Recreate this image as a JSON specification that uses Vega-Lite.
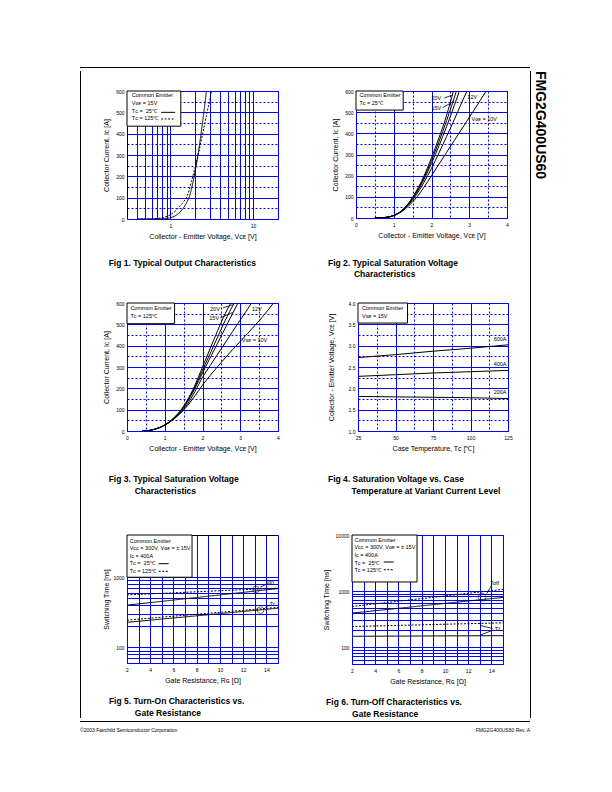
{
"$schema": "https://vega.github.io/schema/vega-lite/v6.json",
"background": "white",
"padding": {"left": 80, "top": 65, "right": 5, "bottom": 5},
"config": {
 "font": "Liberation Sans",
 "view": {"stroke": "black", "strokeWidth": 1},
 "axis": {"domain": false, "ticks": false, "tickCount": 100, "labelFontSize": 5, "labelColor": "black", "labelFont": "Liberation Sans", "titleFont": "Liberation Sans", "titleFontSize": 7, "titleFontWeight": "normal", "titleColor": "black", "gridColor": "#0000ff", "gridWidth": 1, "gridOpacity": 1, "labelPadding": 3, "titlePadding": 6, "labelFlush": false, "labelOverlap": false},
 "axisX": {"labelPadding": 4, "titlePadding": 4},
 "title": {"font": "Liberation Sans", "color": "black"},
 "text": {"font": "Liberation Sans", "color": "black", "fontSize": 5.5}
},
"datasets": {
 "f1": [
  {"v":0.4,"i":0,"tc":"25"},{"v":0.6,"i":0.3,"tc":"25"},{"v":0.8,"i":1.5,"tc":"25"},{"v":1.0,"i":6,"tc":"25"},{"v":1.2,"i":20,"tc":"25"},{"v":1.4,"i":45,"tc":"25"},{"v":1.6,"i":82,"tc":"25"},{"v":1.7,"i":105,"tc":"25"},{"v":1.8,"i":140,"tc":"25"},{"v":1.9,"i":180,"tc":"25"},{"v":2.0,"i":225,"tc":"25"},{"v":2.1,"i":272,"tc":"25"},{"v":2.2,"i":320,"tc":"25"},{"v":2.3,"i":372,"tc":"25"},{"v":2.4,"i":425,"tc":"25"},{"v":2.5,"i":478,"tc":"25"},{"v":2.6,"i":530,"tc":"25"},{"v":2.73,"i":600,"tc":"25"},
  {"v":0.4,"i":0,"tc":"125"},{"v":0.6,"i":1,"tc":"125"},{"v":0.8,"i":6,"tc":"125"},{"v":1.0,"i":20,"tc":"125"},{"v":1.2,"i":44,"tc":"125"},{"v":1.4,"i":74,"tc":"125"},{"v":1.6,"i":108,"tc":"125"},{"v":1.8,"i":175,"tc":"125"},{"v":2.0,"i":245,"tc":"125"},{"v":2.2,"i":312,"tc":"125"},{"v":2.4,"i":380,"tc":"125"},{"v":2.6,"i":445,"tc":"125"},{"v":2.8,"i":505,"tc":"125"},{"v":3.0,"i":558,"tc":"125"},{"v":3.14,"i":600,"tc":"125"}
 ],
 "f2": [
  {"v":0.5,"i":0,"g":"20"},{"v":0.8,"i":3,"g":"20"},{"v":1.0,"i":12,"g":"20"},{"v":1.2,"i":33,"g":"20"},{"v":1.4,"i":72,"g":"20"},{"v":1.6,"i":128,"g":"20"},{"v":1.8,"i":198,"g":"20"},{"v":2.0,"i":285,"g":"20"},{"v":2.2,"i":380,"g":"20"},{"v":2.4,"i":485,"g":"20"},{"v":2.58,"i":600,"g":"20"},
  {"v":0.5,"i":0,"g":"17"},{"v":0.8,"i":3,"g":"17"},{"v":1.0,"i":12,"g":"17"},{"v":1.2,"i":33,"g":"17"},{"v":1.4,"i":70,"g":"17"},{"v":1.6,"i":124,"g":"17"},{"v":1.8,"i":190,"g":"17"},{"v":2.0,"i":272,"g":"17"},{"v":2.2,"i":362,"g":"17"},{"v":2.4,"i":460,"g":"17"},{"v":2.66,"i":600,"g":"17"},
  {"v":0.5,"i":0,"g":"15"},{"v":0.8,"i":3,"g":"15"},{"v":1.0,"i":12,"g":"15"},{"v":1.2,"i":32,"g":"15"},{"v":1.4,"i":68,"g":"15"},{"v":1.6,"i":118,"g":"15"},{"v":1.8,"i":182,"g":"15"},{"v":2.0,"i":258,"g":"15"},{"v":2.2,"i":342,"g":"15"},{"v":2.4,"i":432,"g":"15"},{"v":2.6,"i":530,"g":"15"},{"v":2.74,"i":600,"g":"15"},
  {"v":0.5,"i":0,"g":"12"},{"v":0.8,"i":3,"g":"12"},{"v":1.0,"i":12,"g":"12"},{"v":1.2,"i":31,"g":"12"},{"v":1.4,"i":64,"g":"12"},{"v":1.6,"i":110,"g":"12"},{"v":1.8,"i":168,"g":"12"},{"v":2.0,"i":235,"g":"12"},{"v":2.2,"i":308,"g":"12"},{"v":2.4,"i":385,"g":"12"},{"v":2.6,"i":463,"g":"12"},{"v":2.8,"i":545,"g":"12"},{"v":2.94,"i":600,"g":"12"},
  {"v":0.5,"i":0,"g":"10"},{"v":0.8,"i":3,"g":"10"},{"v":1.0,"i":11,"g":"10"},{"v":1.2,"i":29,"g":"10"},{"v":1.4,"i":58,"g":"10"},{"v":1.6,"i":96,"g":"10"},{"v":1.8,"i":145,"g":"10"},{"v":2.0,"i":200,"g":"10"},{"v":2.2,"i":255,"g":"10"},{"v":2.4,"i":310,"g":"10"},{"v":2.6,"i":365,"g":"10"},{"v":2.8,"i":420,"g":"10"},{"v":3.0,"i":475,"g":"10"},{"v":3.2,"i":530,"g":"10"},{"v":3.45,"i":600,"g":"10"}
 ],
 "f3": [
  {"v":0.4,"i":0,"g":"20"},{"v":0.6,"i":3,"g":"20"},{"v":0.8,"i":12,"g":"20"},{"v":1.0,"i":28,"g":"20"},{"v":1.2,"i":55,"g":"20"},{"v":1.4,"i":92,"g":"20"},{"v":1.6,"i":145,"g":"20"},{"v":1.8,"i":215,"g":"20"},{"v":2.0,"i":300,"g":"20"},{"v":2.2,"i":385,"g":"20"},{"v":2.4,"i":470,"g":"20"},{"v":2.6,"i":550,"g":"20"},{"v":2.75,"i":600,"g":"20"},
  {"v":0.4,"i":0,"g":"17"},{"v":0.6,"i":3,"g":"17"},{"v":0.8,"i":12,"g":"17"},{"v":1.0,"i":28,"g":"17"},{"v":1.2,"i":54,"g":"17"},{"v":1.4,"i":90,"g":"17"},{"v":1.6,"i":140,"g":"17"},{"v":1.8,"i":207,"g":"17"},{"v":2.0,"i":285,"g":"17"},{"v":2.2,"i":362,"g":"17"},{"v":2.4,"i":440,"g":"17"},{"v":2.6,"i":518,"g":"17"},{"v":2.84,"i":600,"g":"17"},
  {"v":0.4,"i":0,"g":"15"},{"v":0.6,"i":3,"g":"15"},{"v":0.8,"i":12,"g":"15"},{"v":1.0,"i":27,"g":"15"},{"v":1.2,"i":52,"g":"15"},{"v":1.4,"i":86,"g":"15"},{"v":1.6,"i":136,"g":"15"},{"v":1.8,"i":200,"g":"15"},{"v":2.0,"i":272,"g":"15"},{"v":2.2,"i":342,"g":"15"},{"v":2.4,"i":412,"g":"15"},{"v":2.6,"i":482,"g":"15"},{"v":2.8,"i":552,"g":"15"},{"v":2.94,"i":600,"g":"15"},
  {"v":0.4,"i":0,"g":"12"},{"v":0.6,"i":3,"g":"12"},{"v":0.8,"i":12,"g":"12"},{"v":1.0,"i":27,"g":"12"},{"v":1.2,"i":52,"g":"12"},{"v":1.4,"i":84,"g":"12"},{"v":1.6,"i":126,"g":"12"},{"v":1.8,"i":185,"g":"12"},{"v":2.0,"i":252,"g":"12"},{"v":2.2,"i":306,"g":"12"},{"v":2.4,"i":360,"g":"12"},{"v":2.6,"i":413,"g":"12"},{"v":2.8,"i":467,"g":"12"},{"v":3.0,"i":520,"g":"12"},{"v":3.2,"i":573,"g":"12"},{"v":3.3,"i":600,"g":"12"},
  {"v":0.4,"i":0,"g":"10"},{"v":0.6,"i":3,"g":"10"},{"v":0.8,"i":12,"g":"10"},{"v":1.0,"i":27,"g":"10"},{"v":1.2,"i":50,"g":"10"},{"v":1.4,"i":80,"g":"10"},{"v":1.6,"i":118,"g":"10"},{"v":1.8,"i":165,"g":"10"},{"v":2.0,"i":215,"g":"10"},{"v":2.2,"i":260,"g":"10"},{"v":2.4,"i":302,"g":"10"},{"v":2.6,"i":342,"g":"10"},{"v":2.8,"i":382,"g":"10"},{"v":3.0,"i":420,"g":"10"},{"v":3.2,"i":458,"g":"10"},{"v":3.4,"i":497,"g":"10"},{"v":3.6,"i":537,"g":"10"},{"v":3.88,"i":600,"g":"10"}
 ],
 "f4": [
  {"t":25,"v":2.72,"c":"600A"},{"t":50,"v":2.79,"c":"600A"},{"t":75,"v":2.87,"c":"600A"},{"t":100,"v":2.94,"c":"600A"},{"t":125,"v":3.02,"c":"600A"},
  {"t":25,"v":2.28,"c":"400A"},{"t":50,"v":2.32,"c":"400A"},{"t":75,"v":2.36,"c":"400A"},{"t":100,"v":2.39,"c":"400A"},{"t":125,"v":2.42,"c":"400A"},
  {"t":25,"v":1.81,"c":"200A"},{"t":50,"v":1.80,"c":"200A"},{"t":75,"v":1.79,"c":"200A"},{"t":100,"v":1.78,"c":"200A"},{"t":125,"v":1.76,"c":"200A"}
 ],
 "f5": [
  {"rg":2,"ns":400,"sw":"Ton","tc":"25"},{"rg":8,"ns":515,"sw":"Ton","tc":"25"},{"rg":15,"ns":690,"sw":"Ton","tc":"25"},
  {"rg":2,"ns":560,"sw":"Ton","tc":"125"},{"rg":8,"ns":621,"sw":"Ton","tc":"125"},{"rg":15,"ns":700,"sw":"Ton","tc":"125"},
  {"rg":2,"ns":228,"sw":"Tr","tc":"25"},{"rg":8,"ns":282,"sw":"Tr","tc":"25"},{"rg":15,"ns":362,"sw":"Tr","tc":"25"},
  {"rg":2,"ns":245,"sw":"Tr","tc":"125"},{"rg":8,"ns":297,"sw":"Tr","tc":"125"},{"rg":15,"ns":372,"sw":"Tr","tc":"125"}
 ],
 "f6": [
  {"rg":2,"ns":404,"sw":"Toff","tc":"25"},{"rg":8,"ns":545,"sw":"Toff","tc":"25"},{"rg":15,"ns":771,"sw":"Toff","tc":"25"},
  {"rg":2,"ns":531,"sw":"Toff","tc":"125"},{"rg":8,"ns":734,"sw":"Toff","tc":"125"},{"rg":15,"ns":1071,"sw":"Toff","tc":"125"},
  {"rg":2,"ns":156,"sw":"Tf","tc":"25"},{"rg":8,"ns":158,"sw":"Tf","tc":"25"},{"rg":15,"ns":160,"sw":"Tf","tc":"25"},
  {"rg":2,"ns":233,"sw":"Tf","tc":"125"},{"rg":8,"ns":250,"sw":"Tf","tc":"125"},{"rg":15,"ns":271,"sw":"Tf","tc":"125"}
 ]
},
"spacing": 0,
"vconcat": [
 {"width": 450, "height": 1, "view": {"fill": "black", "stroke": null}, "data": {"values": [{}]}, "mark": {"type": "text", "text": ""}},
 {"spacing": 21, "hconcat": [
   {"width": 1, "height": 647, "view": {"fill": "black", "stroke": null}, "data": {"values": [{}]}, "mark": {"type": "text", "text": ""}},
   {"spacing": 17, "hconcat": [
   {"spacing": 0, "vconcat": [
     {"width": 380, "height": 17, "view": {"stroke": null}, "data": {"values": [{}]}, "mark": {"type": "text", "text": ""}},
     {"spacing": 48, "hconcat": [
       {"width": 151, "height": 128, "data": {"name": "f1"},
        "title": {"text": "Fig 1. Typical Output Characteristics", "orient": "bottom", "anchor": "start", "dx": 6, "offset": 20, "fontSize": 8.5, "fontWeight": "bold"},
        "layer": [
         {"mark": {"type": "line", "clip": true, "interpolate": "monotone", "color": "black", "strokeWidth": 1},
          "encoding": {
           "x": {"field": "v", "type": "quantitative", "scale": {"type": "log", "domain": [0.3, 20], "nice": false},
                 "axis": {"title": "Collector - Emitter Voltage, Vᴄᴇ [V]", "grid": true, "tickCount": 100, "values": [0.4,0.5,0.6,0.7,0.8,0.9,1,2,3,4,5,6,7,8,9,10,20], "labelExpr": "datum.value == 1 || datum.value == 10 ? format(datum.value, 'd') : ''"}},
           "y": {"field": "i", "type": "quantitative", "scale": {"domain": [0, 600], "nice": false},
                 "axis": {"title": "Collector Current, Iᴄ [A]", "grid": true, "tickCount": 100, "values": [0,50,100,150,200,250,300,350,400,450,500,550,600], "labelExpr": "datum.value % 100 == 0 ? format(datum.value, 'd') : ''", "gridDash": {"condition": {"test": "datum.value % 100 != 0", "value": [2, 2]}, "value": []}}},
           "strokeDash": {"field": "tc", "type": "nominal", "scale": {"domain": ["25", "125"], "range": [[1, 0], [2, 1.5]]}, "legend": null}
          }},
         {"data": {"values": [{}]}, "mark": {"type": "rect", "fill": "white", "stroke": "black", "strokeWidth": 1}, "encoding": {"x": {"datum": 0.3}, "x2": {"datum": 1.34}, "y": {"datum": 600}, "y2": {"datum": 435}}},
         {"data": {"values": [{}]}, "mark": {"type": "text", "align": "left", "baseline": "top", "lineBreak": "\n", "lineHeight": 7.8, "fontSize": 5.5, "text": "Common Emitter\nVɢᴇ = 15V\nTᴄ =\u00a0\u00a025℃\nTᴄ = 125℃"}, "encoding": {"x": {"datum": 0.343}, "y": {"datum": 591}}},
         {"data": {"values": [{}]}, "mark": {"type": "rule", "color": "black", "strokeWidth": 1}, "encoding": {"x": {"datum": 0.775}, "x2": {"datum": 1.147}, "y": {"datum": 500}}},
         {"data": {"values": [{}]}, "mark": {"type": "rule", "color": "black", "strokeWidth": 1, "strokeDash": [2, 1.5]}, "encoding": {"x": {"datum": 0.775}, "x2": {"datum": 1.147}, "y": {"datum": 469}}}
        ]},
       {"width": 151, "height": 127, "data": {"name": "f2"},
        "title": {"text": ["Fig 2. Typical Saturation Voltage", "\u200b\u00a0\u00a0\u00a0\u00a0\u00a0\u00a0\u00a0\u00a0\u00a0\u00a0\u00a0Characteristics"], "orient": "bottom", "anchor": "start", "frame": "group", "dx": -28, "offset": 21, "fontSize": 8.5, "fontWeight": "bold", "lineHeight": 10.5},
        "layer": [
         {"mark": {"type": "line", "clip": true, "interpolate": "monotone", "color": "black", "strokeWidth": 1},
          "encoding": {
           "x": {"field": "v", "type": "quantitative", "scale": {"domain": [0, 4], "nice": false},
                 "axis": {"title": "Collector - Emitter Voltage, Vᴄᴇ [V]", "grid": true, "tickCount": 100, "values": [0,0.5,1,1.5,2,2.5,3,3.5,4], "labelExpr": "datum.value % 1 == 0 ? format(datum.value, 'd') : ''", "gridDash": {"condition": {"test": "datum.value % 1 != 0", "value": [2, 2]}, "value": []}}},
           "y": {"field": "i", "type": "quantitative", "scale": {"domain": [0, 600], "nice": false},
                 "axis": {"title": "Collector Current, Iᴄ [A]", "grid": true, "tickCount": 100, "values": [0,50,100,150,200,250,300,350,400,450,500,550,600], "labelExpr": "datum.value % 100 == 0 ? format(datum.value, 'd') : ''", "gridDash": {"condition": {"test": "datum.value % 100 != 0", "value": [2, 2]}, "value": []}}},
           "detail": {"field": "g", "type": "nominal"}
          }},
         {"data": {"values": [{}]}, "mark": {"type": "rect", "fill": "white", "stroke": "black", "strokeWidth": 1}, "encoding": {"x": {"datum": 0}, "x2": {"datum": 1.25}, "y": {"datum": 600}, "y2": {"datum": 510}}},
         {"data": {"values": [{}]}, "mark": {"type": "text", "align": "left", "baseline": "top", "lineBreak": "\n", "lineHeight": 8.3, "fontSize": 5.5, "text": "Common Emitter\nTᴄ = 25℃"}, "encoding": {"x": {"datum": 0.09}, "y": {"datum": 590}}},
         {"data": {"values": [{}]}, "mark": {"type": "text", "align": "left", "baseline": "middle", "fontSize": 5.5, "text": "20V"}, "encoding": {"x": {"datum": 2.0}, "y": {"datum": 567}}},
         {"data": {"values": [{}]}, "mark": {"type": "text", "align": "left", "baseline": "middle", "fontSize": 5.5, "text": "15V"}, "encoding": {"x": {"datum": 2.0}, "y": {"datum": 520}}},
         {"data": {"values": [{}]}, "mark": {"type": "text", "align": "left", "baseline": "middle", "fontSize": 5.5, "text": "12V"}, "encoding": {"x": {"datum": 2.95}, "y": {"datum": 570}}},
         {"data": {"values": [{}]}, "mark": {"type": "text", "align": "left", "baseline": "middle", "fontSize": 5.5, "text": "Vɢᴇ = 10V"}, "encoding": {"x": {"datum": 3.06}, "y": {"datum": 468}}},
         {"data": {"values": [{}]}, "mark": {"type": "rule", "color": "black", "strokeWidth": 0.8}, "encoding": {"x": {"datum": 2.34}, "y": {"datum": 567}, "x2": {"datum": 2.57}, "y2": {"datum": 582}}},
         {"data": {"values": [{}]}, "mark": {"type": "rule", "color": "black", "strokeWidth": 0.8}, "encoding": {"x": {"datum": 2.3}, "y": {"datum": 522}, "x2": {"datum": 2.6}, "y2": {"datum": 552}}}
        ]}
     ]},
     {"width": 380, "height": 21, "view": {"stroke": null}, "data": {"values": [{}]}, "mark": {"type": "text", "text": ""}},
     {"spacing": 46, "hconcat": [
       {"width": 151, "height": 128, "data": {"name": "f3"},
        "title": {"text": ["Fig 3. Typical Saturation Voltage", "\u200b\u00a0\u00a0\u00a0\u00a0\u00a0\u00a0\u00a0\u00a0\u00a0\u00a0\u00a0Characteristics"], "orient": "bottom", "anchor": "start", "dx": 6, "offset": 24, "fontSize": 8.5, "fontWeight": "bold", "lineHeight": 12},
        "layer": [
         {"mark": {"type": "line", "clip": true, "interpolate": "monotone", "color": "black", "strokeWidth": 1},
          "encoding": {
           "x": {"field": "v", "type": "quantitative", "scale": {"domain": [0, 4], "nice": false},
                 "axis": {"title": "Collector - Emitter Voltage, Vᴄᴇ [V]", "grid": true, "tickCount": 100, "values": [0,0.5,1,1.5,2,2.5,3,3.5,4], "labelExpr": "datum.value % 1 == 0 ? format(datum.value, 'd') : ''", "gridDash": {"condition": {"test": "datum.value % 1 != 0", "value": [2, 2]}, "value": []}}},
           "y": {"field": "i", "type": "quantitative", "scale": {"domain": [0, 600], "nice": false},
                 "axis": {"title": "Collector Current, Iᴄ [A]", "grid": true, "tickCount": 100, "values": [0,50,100,150,200,250,300,350,400,450,500,550,600], "labelExpr": "datum.value % 100 == 0 ? format(datum.value, 'd') : ''", "gridDash": {"condition": {"test": "datum.value % 100 != 0", "value": [2, 2]}, "value": []}}},
           "detail": {"field": "g", "type": "nominal"}
          }},
         {"data": {"values": [{}]}, "mark": {"type": "rect", "fill": "white", "stroke": "black", "strokeWidth": 1}, "encoding": {"x": {"datum": 0}, "x2": {"datum": 1.26}, "y": {"datum": 600}, "y2": {"datum": 503}}},
         {"data": {"values": [{}]}, "mark": {"type": "text", "align": "left", "baseline": "top", "lineBreak": "\n", "lineHeight": 8.3, "fontSize": 5.5, "text": "Common Emitter\nTᴄ = 125℃"}, "encoding": {"x": {"datum": 0.09}, "y": {"datum": 588}}},
         {"data": {"values": [{}]}, "mark": {"type": "text", "align": "left", "baseline": "middle", "fontSize": 5.5, "text": "20V"}, "encoding": {"x": {"datum": 2.2}, "y": {"datum": 574}}},
         {"data": {"values": [{}]}, "mark": {"type": "text", "align": "left", "baseline": "middle", "fontSize": 5.5, "text": "15V"}, "encoding": {"x": {"datum": 2.18}, "y": {"datum": 528}}},
         {"data": {"values": [{}]}, "mark": {"type": "text", "align": "left", "baseline": "middle", "fontSize": 5.5, "text": "12V"}, "encoding": {"x": {"datum": 3.31}, "y": {"datum": 573}}},
         {"data": {"values": [{}]}, "mark": {"type": "text", "align": "left", "baseline": "middle", "fontSize": 5.5, "text": "Vɢᴇ = 10V"}, "encoding": {"x": {"datum": 3.04}, "y": {"datum": 425}}},
         {"data": {"values": [{}]}, "mark": {"type": "rule", "color": "black", "strokeWidth": 0.8}, "encoding": {"x": {"datum": 2.54}, "y": {"datum": 577}, "x2": {"datum": 2.8}, "y2": {"datum": 592}}},
         {"data": {"values": [{}]}, "mark": {"type": "rule", "color": "black", "strokeWidth": 0.8}, "encoding": {"x": {"datum": 2.47}, "y": {"datum": 530}, "x2": {"datum": 2.8}, "y2": {"datum": 556}}}
        ]},
       {"width": 150, "height": 128, "data": {"name": "f4"},
        "title": {"text": ["Fig 4. Saturation Voltage vs. Case", "\u200b\u00a0\u00a0\u00a0\u00a0\u00a0\u00a0\u00a0\u00a0\u00a0\u00a0Temperature at Variant Current Level"], "orient": "bottom", "anchor": "start", "frame": "group", "dx": -30, "offset": 24, "fontSize": 8.5, "fontWeight": "bold", "lineHeight": 12},
        "layer": [
         {"mark": {"type": "line", "clip": true, "color": "black", "strokeWidth": 1},
          "encoding": {
           "x": {"field": "t", "type": "quantitative", "scale": {"domain": [25, 125], "nice": false, "zero": false},
                 "axis": {"title": "Case Temperature, Tᴄ [℃]", "grid": true, "tickCount": 100, "values": [25,37.5,50,62.5,75,87.5,100,112.5,125], "labelExpr": "datum.value % 25 == 0 ? format(datum.value, 'd') : ''", "gridDash": {"condition": {"test": "datum.value % 25 != 0", "value": [2, 2]}, "value": []}}},
           "y": {"field": "v", "type": "quantitative", "scale": {"domain": [1, 4], "nice": false, "zero": false},
                 "axis": {"title": "Collector - Emitter Voltage, Vᴄᴇ [V]", "grid": true, "tickCount": 100, "titlePadding": 14, "values": [1,1.25,1.5,1.75,2,2.25,2.5,2.75,3,3.25,3.5,3.75,4], "labelExpr": "datum.value % 0.5 == 0 ? format(datum.value, '.1f') : ''", "gridDash": {"condition": {"test": "datum.value % 0.5 != 0", "value": [2, 2]}, "value": []}}},
           "detail": {"field": "c", "type": "nominal"}
          }},
         {"data": {"values": [{}]}, "mark": {"type": "rect", "fill": "white", "stroke": "black", "strokeWidth": 1}, "encoding": {"x": {"datum": 25}, "x2": {"datum": 58}, "y": {"datum": 4}, "y2": {"datum": 3.53}}},
         {"data": {"values": [{}]}, "mark": {"type": "text", "align": "left", "baseline": "top", "lineBreak": "\n", "lineHeight": 7.6, "fontSize": 5.5, "text": "Common Emitter\nVɢᴇ = 15V"}, "encoding": {"x": {"datum": 27.7}, "y": {"datum": 3.93}}},
         {"data": {"values": [{}]}, "mark": {"type": "text", "align": "right", "baseline": "middle", "fontSize": 5.5, "text": "600A"}, "encoding": {"x": {"datum": 124}, "y": {"datum": 3.16}}},
         {"data": {"values": [{}]}, "mark": {"type": "text", "align": "right", "baseline": "middle", "fontSize": 5.5, "text": "400A"}, "encoding": {"x": {"datum": 124}, "y": {"datum": 2.57}}},
         {"data": {"values": [{}]}, "mark": {"type": "text", "align": "right", "baseline": "middle", "fontSize": 5.5, "text": "200A"}, "encoding": {"x": {"datum": 124}, "y": {"datum": 1.91}}}
        ]}
     ]},
     {"width": 380, "height": 36, "view": {"stroke": null}, "data": {"values": [{}]}, "mark": {"type": "text", "text": ""}},
     {"spacing": 42, "hconcat": [
       {"width": 151, "height": 128, "data": {"name": "f5"},
        "title": {"text": ["Fig 5. Turn-On Characteristics vs.", "\u200b\u00a0\u00a0\u00a0\u00a0\u00a0\u00a0\u00a0\u00a0\u00a0\u00a0\u00a0Gate Resistance"], "orient": "bottom", "anchor": "start", "dx": 6, "offset": 14, "fontSize": 8.5, "fontWeight": "bold", "lineHeight": 12},
        "layer": [
         {"mark": {"type": "line", "clip": true, "color": "black", "strokeWidth": 1},
          "encoding": {
           "x": {"field": "rg", "type": "quantitative", "scale": {"domain": [2, 15], "nice": false, "zero": false},
                 "axis": {"title": "Gate Resistance, Rɢ [Ω]", "grid": true, "tickCount": 100, "values": [2,3,4,5,6,7,8,9,10,11,12,13,14,15], "labelExpr": "datum.value % 2 == 0 && datum.value < 15 ? format(datum.value, 'd') : ''"}},
           "y": {"field": "ns", "type": "quantitative", "scale": {"type": "log", "domain": [60, 4000], "nice": false},
                 "axis": {"title": "Switching Time [ns]", "grid": true, "tickCount": 100, "titlePadding": 3, "values": [60,70,80,90,100,200,300,400,500,600,700,800,900,1000], "labelExpr": "datum.value == 100 || datum.value == 1000 ? format(datum.value, 'd') : ''"}},
           "detail": {"field": "sw", "type": "nominal"},
           "strokeDash": {"field": "tc", "type": "nominal", "scale": {"domain": ["25", "125"], "range": [[1, 0], [2, 1.5]]}, "legend": null}
          }},
         {"data": {"values": [{}]}, "mark": {"type": "rect", "fill": "white", "stroke": "black", "strokeWidth": 1}, "encoding": {"x": {"datum": 2}, "x2": {"datum": 7.6}, "y": {"datum": 4000}, "y2": {"datum": 1000}}},
         {"data": {"values": [{}]}, "mark": {"type": "text", "align": "left", "baseline": "top", "lineBreak": "\n", "lineHeight": 7.6, "fontSize": 5.5, "text": "Common Emitter\nVᴄᴄ = 300V, Vɢᴇ = ± 15V\nIᴄ = 400A\nTᴄ =\u00a0\u00a025℃\nTᴄ = 125℃"}, "encoding": {"x": {"datum": 2.23}, "y": {"datum": 3565}}},
         {"data": {"values": [{}]}, "mark": {"type": "rule", "color": "black", "strokeWidth": 1}, "encoding": {"x": {"datum": 4.73}, "x2": {"datum": 5.59}, "y": {"datum": 1560}}},
         {"data": {"values": [{}]}, "mark": {"type": "rule", "color": "black", "strokeWidth": 1, "strokeDash": [2, 1.5]}, "encoding": {"x": {"datum": 4.73}, "x2": {"datum": 5.59}, "y": {"datum": 1216}}},
         {"data": {"values": [{}]}, "mark": {"type": "text", "align": "left", "baseline": "middle", "fontSize": 5.5, "text": "Ton"}, "encoding": {"x": {"datum": 13.9}, "y": {"datum": 855}}},
         {"data": {"values": [{}]}, "mark": {"type": "text", "align": "left", "baseline": "middle", "fontSize": 5.5, "text": "Tr"}, "encoding": {"x": {"datum": 14.3}, "y": {"datum": 420}}},
         {"data": {"values": [{}]}, "mark": {"type": "point", "shape": "circle", "filled": false, "color": "black", "size": 45, "strokeWidth": 0.8}, "encoding": {"x": {"datum": 13.1}, "y": {"datum": 670}}},
         {"data": {"values": [{}]}, "mark": {"type": "point", "shape": "circle", "filled": false, "color": "black", "size": 45, "strokeWidth": 0.8}, "encoding": {"x": {"datum": 13.5}, "y": {"datum": 340}}},
         {"data": {"values": [{}]}, "mark": {"type": "rule", "color": "black", "strokeWidth": 0.8}, "encoding": {"x": {"datum": 13.5}, "y": {"datum": 720}, "x2": {"datum": 14.1}, "y2": {"datum": 820}}},
         {"data": {"values": [{}]}, "mark": {"type": "rule", "color": "black", "strokeWidth": 0.8}, "encoding": {"x": {"datum": 13.9}, "y": {"datum": 370}, "x2": {"datum": 14.3}, "y2": {"datum": 405}}}
        ]},
       {"width": 151, "height": 129, "data": {"name": "f6"},
        "title": {"text": ["Fig 6. Turn-Off Characteristics vs.", "\u200b\u00a0\u00a0\u00a0\u00a0\u00a0\u00a0\u00a0\u00a0\u00a0\u00a0\u00a0Gate Resistance"], "orient": "bottom", "anchor": "start", "dx": 4, "offset": 14, "fontSize": 8.5, "fontWeight": "bold", "lineHeight": 12},
        "layer": [
         {"mark": {"type": "line", "clip": true, "color": "black", "strokeWidth": 1},
          "encoding": {
           "x": {"field": "rg", "type": "quantitative", "scale": {"domain": [2, 15], "nice": false, "zero": false},
                 "axis": {"title": "Gate Resistance, Rɢ [Ω]", "grid": true, "tickCount": 100, "values": [2,3,4,5,6,7,8,9,10,11,12,13,14,15], "labelExpr": "datum.value % 2 == 0 && datum.value < 15 ? format(datum.value, 'd') : ''"}},
           "y": {"field": "ns", "type": "quantitative", "scale": {"type": "log", "domain": [50, 10000], "nice": false},
                 "axis": {"title": "Switching Time [ns]", "grid": true, "tickCount": 100, "values": [50,60,70,80,90,100,200,300,400,500,600,700,800,900,1000,10000], "labelExpr": "datum.value == 100 || datum.value == 1000 || datum.value == 10000 ? format(datum.value, 'd') : ''"}},
           "detail": {"field": "sw", "type": "nominal"},
           "strokeDash": {"field": "tc", "type": "nominal", "scale": {"domain": ["25", "125"], "range": [[1, 0], [2, 1.5]]}, "legend": null}
          }},
         {"data": {"values": [{}]}, "mark": {"type": "rect", "fill": "white", "stroke": "black", "strokeWidth": 1}, "encoding": {"x": {"datum": 2}, "x2": {"datum": 7.6}, "y": {"datum": 10000}, "y2": {"datum": 1452}}},
         {"data": {"values": [{}]}, "mark": {"type": "text", "align": "left", "baseline": "top", "lineBreak": "\n", "lineHeight": 7.6, "fontSize": 5.5, "text": "Common Emitter\nVᴄᴄ = 300V, Vɢᴇ = ± 15V\nIᴄ = 400A\nTᴄ =\u00a0\u00a025℃\nTᴄ = 125℃"}, "encoding": {"x": {"datum": 2.21}, "y": {"datum": 8913}}},
         {"data": {"values": [{}]}, "mark": {"type": "rule", "color": "black", "strokeWidth": 1}, "encoding": {"x": {"datum": 4.73}, "x2": {"datum": 5.59}, "y": {"datum": 3300}}},
         {"data": {"values": [{}]}, "mark": {"type": "rule", "color": "black", "strokeWidth": 1, "strokeDash": [2, 1.5]}, "encoding": {"x": {"datum": 4.73}, "x2": {"datum": 5.59}, "y": {"datum": 2405}}},
         {"data": {"values": [{}]}, "mark": {"type": "text", "align": "left", "baseline": "middle", "fontSize": 5.5, "text": "Toff"}, "encoding": {"x": {"datum": 13.9}, "y": {"datum": 1393}}},
         {"data": {"values": [{}]}, "mark": {"type": "text", "align": "left", "baseline": "middle", "fontSize": 5.5, "text": "Tf"}, "encoding": {"x": {"datum": 14.3}, "y": {"datum": 208}}},
         {"data": {"values": [{}]}, "mark": {"type": "point", "shape": "circle", "filled": false, "color": "black", "size": 60, "strokeWidth": 0.8}, "encoding": {"x": {"datum": 13.2}, "y": {"datum": 780}}},
         {"data": {"values": [{}]}, "mark": {"type": "rule", "color": "black", "strokeWidth": 0.8}, "encoding": {"x": {"datum": 13.6}, "y": {"datum": 900}, "x2": {"datum": 14.0}, "y2": {"datum": 1250}}},
         {"data": {"values": [{}]}, "mark": {"type": "rule", "color": "black", "strokeWidth": 0.8}, "encoding": {"x": {"datum": 14.1}, "y": {"datum": 215}, "x2": {"datum": 13.0}, "y2": {"datum": 245}}},
         {"data": {"values": [{}]}, "mark": {"type": "rule", "color": "black", "strokeWidth": 0.8}, "encoding": {"x": {"datum": 14.1}, "y": {"datum": 200}, "x2": {"datum": 13.0}, "y2": {"datum": 162}}}
        ]}
     ]}
   ]},
   {"width": 1, "height": 647, "view": {"fill": "black", "stroke": null}, "data": {"values": [{}]}, "mark": {"type": "text", "text": ""},
    "title": {"text": "FMG2G400US60", "orient": "right", "anchor": "start", "offset": 2, "fontSize": 14, "fontWeight": "bold"}}
   ]}
 ]},
 {"spacing": 0, "hconcat": [
   {"width": 225, "height": 1, "view": {"fill": "black", "stroke": null}, "data": {"values": [{}]}, "mark": {"type": "text", "text": ""},
    "title": {"text": "©2003 Fairchild Semiconductor Corporation", "orient": "bottom", "anchor": "start", "offset": 3, "fontSize": 5, "fontWeight": "normal"}},
   {"width": 225, "height": 1, "view": {"fill": "black", "stroke": null}, "data": {"values": [{}]}, "mark": {"type": "text", "text": ""},
    "title": {"text": "FMG2G400US60 Rev. A", "orient": "bottom", "anchor": "end", "offset": 3, "fontSize": 5, "fontWeight": "normal"}}
 ]}
]
}
